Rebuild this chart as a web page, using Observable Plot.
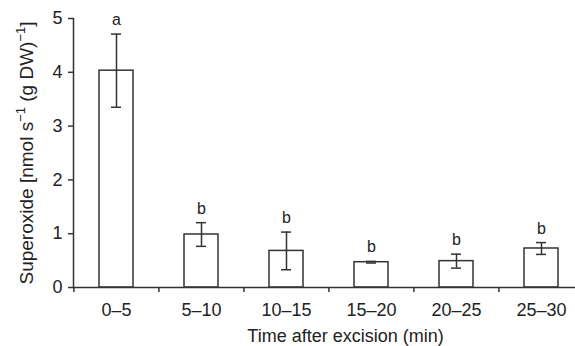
<!DOCTYPE html>
<html><head><meta charset="utf-8">
<script src="https://cdn.jsdelivr.net/npm/d3@7"></script>
<script src="https://cdn.jsdelivr.net/npm/@observablehq/plot@0.6"></script>
<style>body{margin:0;background:#fff;overflow:hidden}</style>
</head><body><div id="chart"></div>
<script>
const categories = ["0–5", "5–10", "10–15", "15–20", "20–25", "25–30"];
const means = [4.03, 0.985, 0.68, 0.47, 0.49, 0.725];
const errors = [0.68, 0.22, 0.35, 0.015, 0.13, 0.11];
const letters = ["a", "b", "b", "b", "b", "b"];
const yTicks = [0, 1, 2, 3, 4, 5];
const xTitle = "Time after excision (min)";
const yTitleParts = ["Superoxide [nmol s", "−1", " (g DW)", "−1", "]"];
const yTitleSup = [false, true, false, true, false];

const data = categories.map((c, i) => ({cat: c, mean: means[i], err: errors[i], letter: letters[i]}));
const FONT = "Liberation Sans, Arial, Helvetica, sans-serif";
const INK = "#222";
const LINE = "#333";
const xRange = [73, 584];
const step = (xRange[1] - xRange[0]) / categories.length;

const chart = Plot.plot({
  width: 575, height: 346,
  marginLeft: 73, marginRight: 0, marginTop: 18, marginBottom: 59,
  style: {fontFamily: FONT, fontSize: "18px", color: INK, background: "#fff", overflow: "visible"},
  x: {domain: categories, range: xRange, paddingInner: 0.6, paddingOuter: 0.3, axis: null},
  y: {domain: [0, 5], axis: null},
  marks: [
    Plot.barY(data, {x: "cat", y: "mean", fill: "white", stroke: LINE, strokeWidth: 1.5}),
    Plot.ruleX(data, {x: "cat", y1: d => d.mean - d.err, y2: d => d.mean + d.err, stroke: LINE, strokeWidth: 1.5}),
    Plot.tickY(data, {x: "cat", y: d => d.mean + d.err, insetLeft: 12, insetRight: 12, stroke: LINE, strokeWidth: 1.5}),
    Plot.tickY(data, {x: "cat", y: d => d.mean - d.err, insetLeft: 12, insetRight: 12, stroke: LINE, strokeWidth: 1.5}),
    Plot.text(data, {x: "cat", y: d => d.mean + d.err, text: "letter", lineAnchor: "bottom", dy: -9, fontSize: 16, fill: INK}),
    Plot.ruleY([0], {stroke: LINE, strokeWidth: 1.5}),
    Plot.frame({anchor: "left", stroke: LINE, strokeWidth: 1.5}),
    Plot.axisY(yTicks, {tickSize: 5, tickPadding: 6, tickFormat: d => String(d), label: null, stroke: LINE, strokeWidth: 1.5, fontSize: 18, fill: INK}),
    Plot.axisX({tickSize: 5, tickFormat: () => "", dx: -step / 2, label: null, stroke: LINE, strokeWidth: 1.5}),
    Plot.axisX({tickSize: 0, tickPadding: 16, label: null, fontSize: 18, fill: INK}),
    Plot.text([xTitle], {frameAnchor: "bottom", dx: 21, dy: 54, lineAnchor: "bottom", fontSize: 18, fill: INK})
  ]
});

const svg = d3.select(chart);
const t = svg.append("text")
  .attr("transform", "translate(33,153) rotate(-90)")
  .attr("text-anchor", "middle")
  .attr("font-family", FONT)
  .attr("font-size", 19)
  .attr("fill", INK);
yTitleParts.forEach((p, i) => {
  const prevSup = i > 0 && yTitleSup[i - 1];
  const s = t.append("tspan").text(p);
  if (yTitleSup[i]) s.attr("font-size", 13).attr("dy", -8);
  else if (prevSup) s.attr("dy", 8);
});

document.getElementById("chart").appendChild(chart);
</script>
</body></html>
